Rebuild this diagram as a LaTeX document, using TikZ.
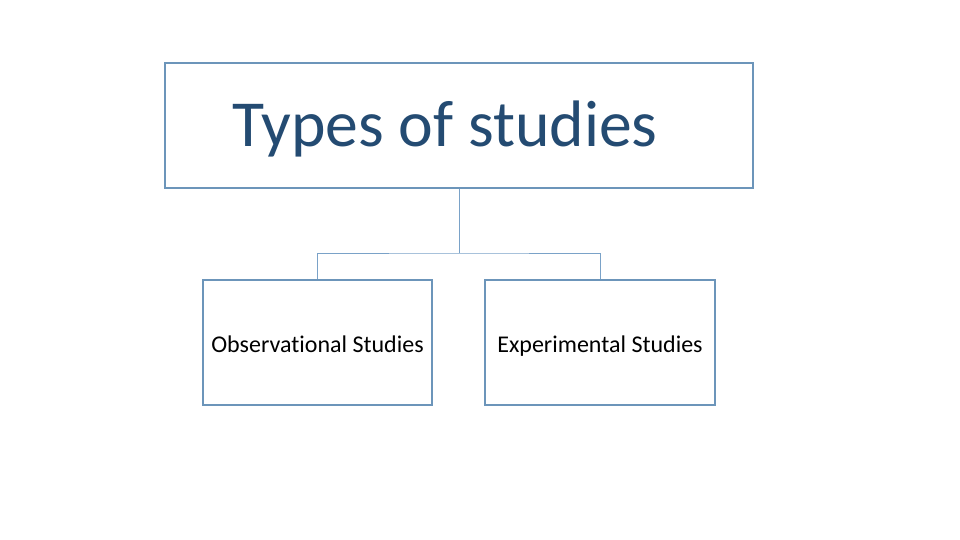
\documentclass[tikz,border=0pt]{standalone}
\usepackage{fontspec}
\setmainfont[Ligatures=NoCommon]{Carlito}
\definecolor{boxline}{HTML}{6C95BA}
\definecolor{linkline}{HTML}{7AA2C8}
\definecolor{titleblue}{HTML}{244B72}
\tikzset{
  card/.style={draw=boxline, line width=1.8pt, fill=white, inner sep=0pt},
  link/.style={draw=linkline, line width=1pt},
  small/.style={font=\fontsize{24pt}{28pt}\selectfont, text=black, text height=21pt, text depth=2pt}
}
\begin{document}
\begin{tikzpicture}[x=1pt,y=-1pt]
\useasboundingbox (0,0) rectangle (960,540);
\node[card, minimum width=588pt, minimum height=125pt] (title) at (459,125.5) {};
\node[anchor=base west, inner sep=0pt, text=titleblue, font=\fontsize{65.7pt}{78pt}\selectfont] (ttext) at (232,147) {Types of studies};
\node[card, minimum width=229pt, minimum height=125pt, small] (obs) at (317.5,342.5) {Observational Studies};
\node[card, minimum width=230pt, minimum height=125pt, small] (exp) at (600,342.5) {Experimental Studies};
\coordinate (j) at (459,253);
\draw[link] (title.south) -- (j);
\draw[link] (obs.north) |- (j) -| (exp.north);
\end{tikzpicture}
\end{document}
